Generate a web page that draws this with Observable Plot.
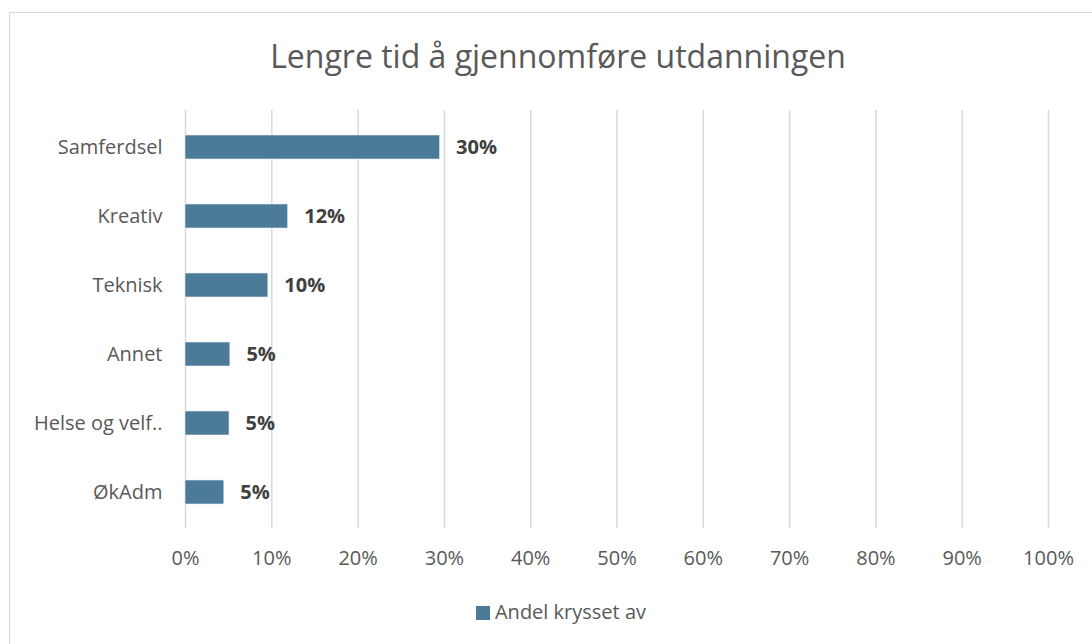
<!DOCTYPE html>
<html>
<head>
<meta charset="utf-8">
<script src="https://cdn.jsdelivr.net/npm/d3@7"></script>
<script src="https://cdn.jsdelivr.net/npm/@observablehq/plot@0.6"></script>
<style>
  html, body { margin: 0; padding: 0; background: #fff; }
  body { width: 1092px; height: 644px; position: relative; overflow: hidden; font-family: "Open Sans", sans-serif; }
  #frame { position: absolute; left: 9px; top: 12px; width: 1100px; height: 660px; border: 1px solid #d9d9d9; box-sizing: border-box; }
  #title { position: absolute; left: 9px; width: 1098px; top: 34px; text-align: center; font-size: 32px; color: #595959; line-height: 44px; }
  #chart { position: absolute; left: 0; top: 100px; }
  #legend { position: absolute; left: 0; width: 1092px; top: 598px; text-align: center; font-size: 20px; color: #595959; line-height: 27px; padding-left: 30px; box-sizing: border-box; }
  #legend .sw { display: inline-block; width: 14px; height: 14px; background: #4c7b99; vertical-align: -1px; margin-right: 5px; }
</style>
</head>
<body>
<div id="frame"></div>
<div id="title">Lengre tid å gjennomføre utdanningen</div>
<div id="chart"></div>
<div id="legend"><span class="sw"></span>Andel krysset av</div>
<script>
const categories = ["Samferdsel", "Kreativ", "Teknisk", "Annet", "Helse og velf..", "ØkAdm"];
const values = [29.5, 11.9, 9.6, 5.2, 5.1, 4.5];
const valueLabels = ["30%", "12%", "10%", "5%", "5%", "5%"];
const xTicks = [0, 10, 20, 30, 40, 50, 60, 70, 80, 90, 100];

const data = categories.map((c, i) => ({category: c, value: values[i], label: valueLabels[i]}));

const plot = Plot.plot({
  width: 1092,
  height: 478,
  marginLeft: 185,
  marginRight: 44,
  marginTop: 10,
  marginBottom: 50,
  style: {fontFamily: "'Open Sans', sans-serif", fontSize: "20px", color: "#595959", background: "transparent", overflow: "visible"},
  x: {domain: [0, 100], ticks: xTicks, tickFormat: d => d + "%", label: null},
  y: {domain: categories, label: null, paddingInner: 0.655, paddingOuter: 0.3275},
  marks: [
    Plot.ruleX(xTicks, {stroke: "#d9d9d9", strokeWidth: 1.5}),
    Plot.barX(data, {x: "value", y: "category", fill: "#4c7b99", stroke: "#e6eef3", strokeWidth: 0.6}),
    Plot.text(data, {x: "value", y: "category", text: "label", dx: 16, textAnchor: "start", fontWeight: "bold", fontSize: 20, fill: "#404040"}),
    Plot.axisX({ticks: xTicks, tickFormat: d => d + "%", tickSize: 0, tickPadding: 22, fontSize: 20, color: "#595959", label: null}),
    Plot.axisY({tickSize: 0, tickPadding: 23, fontSize: 20, color: "#595959", label: null})
  ]
});
document.getElementById("chart").appendChild(plot);
</script>
</body>
</html>
